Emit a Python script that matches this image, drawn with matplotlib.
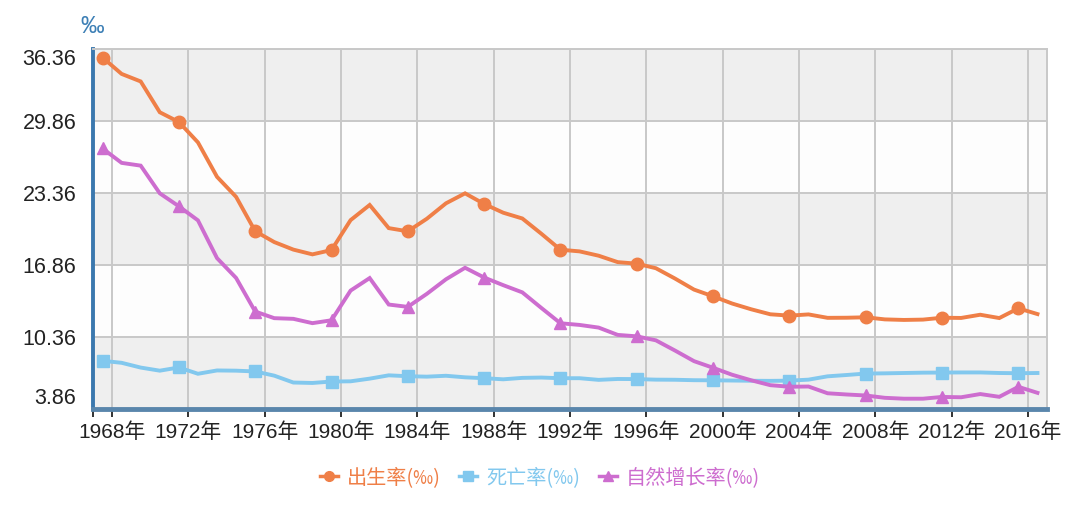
import matplotlib.pyplot as plt
from matplotlib.lines import Line2D
import numpy as np

plt.rcParams['font.family'] = ['Liberation Sans', 'Noto Sans CJK SC', 'DejaVu Sans']

years = list(range(1968, 2018))

birth_rate = [35.59, 34.11, 33.43, 30.65, 29.77, 27.93, 24.82, 23.01, 19.91, 18.93,
              18.25, 17.82, 18.21, 20.91, 22.28, 20.19, 19.90, 21.04, 22.43, 23.33,
              22.37, 21.58, 21.06, 19.68, 18.24, 18.09, 17.70, 17.12, 16.98, 16.57,
              15.64, 14.64, 14.03, 13.38, 12.86, 12.41, 12.29, 12.40, 12.09, 12.10,
              12.14, 11.95, 11.90, 11.93, 12.10, 12.08, 12.37, 12.07, 12.95, 12.43]

death_rate = [8.21, 8.03, 7.60, 7.32, 7.61, 7.04, 7.34, 7.32, 7.25, 6.87,
              6.25, 6.21, 6.34, 6.36, 6.60, 6.90, 6.82, 6.78, 6.86, 6.72,
              6.64, 6.54, 6.67, 6.70, 6.64, 6.64, 6.49, 6.57, 6.56, 6.51,
              6.50, 6.46, 6.45, 6.43, 6.41, 6.40, 6.42, 6.51, 6.81, 6.93,
              7.06, 7.08, 7.11, 7.14, 7.15, 7.16, 7.16, 7.11, 7.09, 7.11]

growth_rate = [27.38, 26.08, 25.83, 23.33, 22.16, 20.89, 17.48, 15.69, 12.66, 12.06,
               12.00, 11.61, 11.87, 14.55, 15.68, 13.29, 13.08, 14.26, 15.57, 16.61,
               15.73, 15.04, 14.39, 12.98, 11.60, 11.45, 11.21, 10.55, 10.42, 10.06,
               9.14, 8.18, 7.58, 6.95, 6.45, 6.01, 5.87, 5.89, 5.28, 5.17,
               5.08, 4.87, 4.79, 4.79, 4.95, 4.92, 5.21, 4.96, 5.86, 5.32]

y_ticks = [3.86, 10.36, 16.86, 23.36, 29.86, 36.36]
x_tick_years = list(range(1968, 2017, 4))

series_names = ['出生率(‰)', '死亡率(‰)', '自然增长率(‰)']
colors = ['#EF7F47', '#82C8EE', '#CD6DCF']
markers = ['o', 's', '^']

fig = plt.figure(figsize=(10.8, 5.19), dpi=100)
ax = fig.add_axes([93 / 1080, 1 - 409 / 519, (1047 - 93) / 1080, (409 - 49) / 519])

# alternating bands
for i in range(len(y_ticks) - 1):
    c = '#EFEFEF' if i % 2 == 0 else '#FDFDFD'
    ax.axhspan(y_ticks[i], y_ticks[i + 1], color=c, zorder=0, lw=0)

for yt in y_ticks[1:]:
    ax.axhline(yt, color='#C8C8C8', lw=1.4, zorder=1)
for xt in x_tick_years:
    ax.axvline(xt + 0.5, color='#C8C8C8', lw=1.4, zorder=1)

for vals, col, mk in zip([birth_rate, death_rate, growth_rate], colors, markers):
    ax.plot(years, vals, color=col, lw=2.8, marker=mk, markevery=4,
            markersize=9 if mk != 's' else 8, zorder=3, solid_joinstyle='miter')

ax.set_xlim(1967.5, 2017.5)
ax.set_ylim(3.86, 36.36)

ax.set_xticks([1967.5] + [x + 0.5 for x in x_tick_years])
ax.set_xticklabels([''] + ['%d年' % x for x in x_tick_years], fontsize=15, color='#222222')
ax.tick_params(axis='x', length=6, width=1.3, color='#222222', pad=4)

ax.set_yticks(y_ticks)
ax.set_yticklabels(['%.2f' % v for v in y_ticks], fontsize=15.5, color='#222222')
ax.tick_params(axis='y', length=0, pad=12)
# keep end labels inside like the original
labels = ax.get_yticklabels()
labels[0].set_va('bottom')
labels[-1].set_va('top')

ax.spines['left'].set_color('#3B78AE')
ax.spines['left'].set_linewidth(2.8)
ax.spines['bottom'].set_color('#5A86AC')
ax.spines['bottom'].set_linewidth(3.5)
ax.spines['top'].set_color('#C8C8C8')
ax.spines['top'].set_linewidth(1.4)
ax.spines['right'].set_color('#C8C8C8')
ax.spines['right'].set_linewidth(1.4)

fig.text(92 / 1080, 1 - 27 / 519, '‰', color='#3C7FB5', fontsize=17,
         ha='center', va='center', family=['Liberation Sans', 'DejaVu Sans'])

handles = [Line2D([0], [0], color=c, marker=m, lw=2.5, markersize=7) for c, m in zip(colors, markers)]
leg = fig.legend(handles, series_names, loc='center', bbox_to_anchor=(0.5, 1 - 478 / 519),
                 ncol=3, frameon=False, handlelength=0.9, handletextpad=0.45, columnspacing=0.9,
                 prop={'family': ['Noto Sans CJK SC', 'DejaVu Sans'], 'size': 14.5})
for t, c in zip(leg.get_texts(), colors):
    t.set_color(c)

fig.savefig('out.png', dpi=100)
